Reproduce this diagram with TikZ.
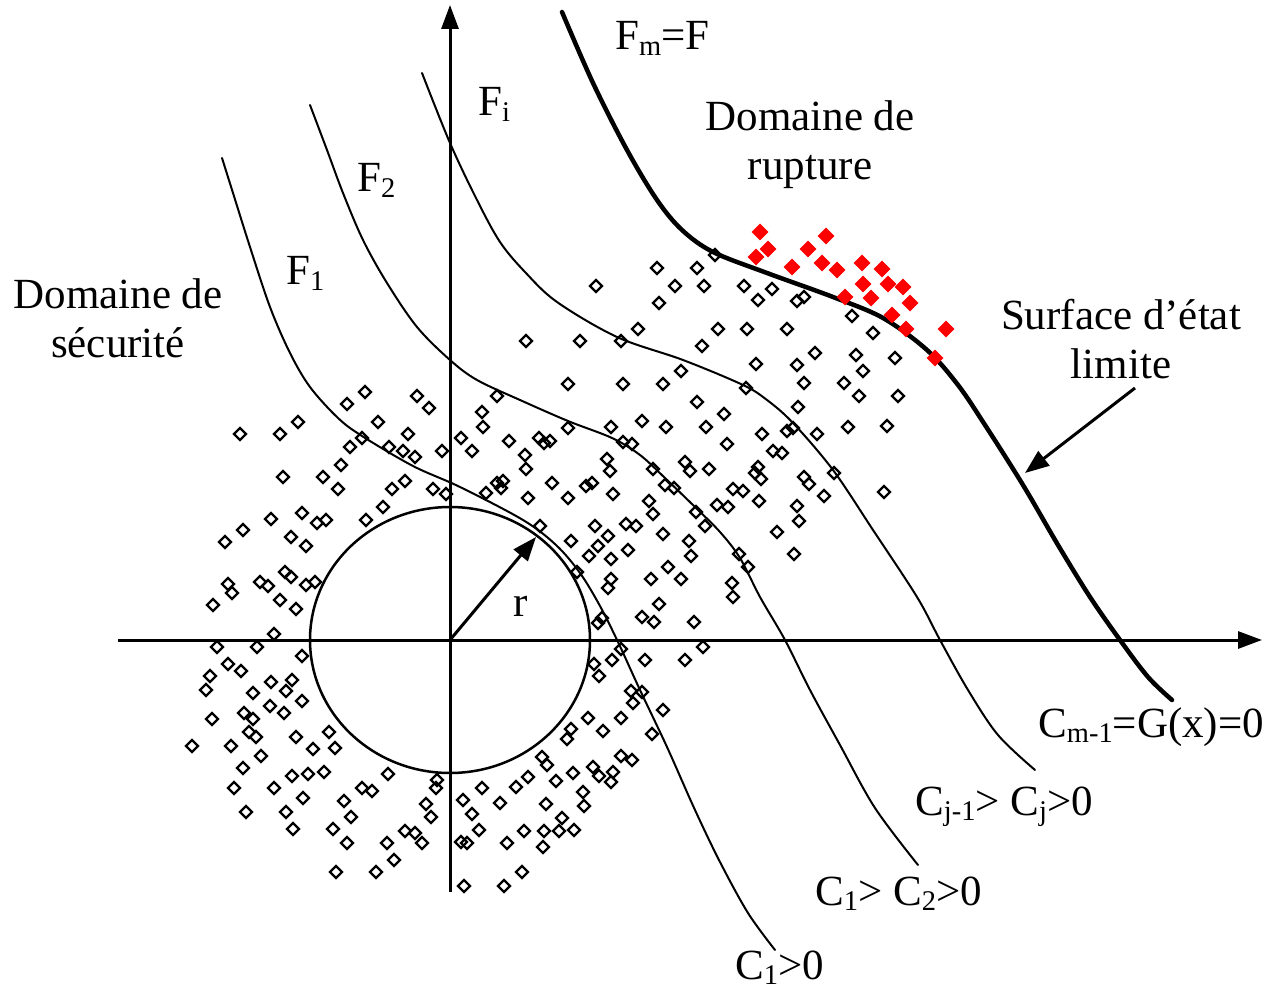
\documentclass[tikz,border=0pt]{standalone}
\usepackage{fontspec}
\setmainfont{Liberation Serif}
\usetikzlibrary{arrows.meta}
\newcommand{\lowidx}[1]{\raisebox{-0.30ex}{\fontsize{28.5}{30}\selectfont #1}}
\tikzset{
  lbl/.style={font=\fontsize{43}{49}\selectfont, inner sep=0pt, align=center},
  curvethin/.style={line width=2pt, line cap=round},
  curvethick/.style={line width=4.5pt, line cap=round},
  axis/.style={line width=3pt, -{Triangle[length=24pt,width=17pt]}},
  bd/.style={draw=black, line width=2.3pt, line join=miter},
  rd/.style={fill=red, draw=red, line width=0.5pt},
  pointer/.style={line width=3pt, -{Triangle[length=24pt,width=18pt]}}
}
\begin{document}
\begin{tikzpicture}[x=1pt,y=-1pt]
\useasboundingbox (0,0) rectangle (1266,992);
% axes
\coordinate (xl) at (118,640);
\coordinate (xr) at (1262,640);
\coordinate (yb) at (450,892);
\coordinate (yt) at (450,5);
\draw[axis] (xl) -- (xr);
\draw[axis] (yb) -- (yt);
% circle
\coordinate (O) at (450,640);
\draw[line width=2.5pt] (O) ellipse [x radius=140, y radius=133];
\coordinate (R) at (536,537);
\draw[pointer] (O) -- (R);
\node[lbl] (r) at (521,606) {r};
% curves
\draw[curvethin] plot[smooth, tension=0.55] coordinates {(222,158) (233,193) (250,247) (270,307) (290,353) (310,387) (338,418) (362,436) (413,466) (460,487) (523,520) (556,545) (580,573) (600,606) (618,642) (640,690) (667,747) (695,810) (720,862) (748,913) (775,950)};
\draw[curvethin] plot[smooth, tension=0.55] coordinates {(310,105) (327,150) (343,193) (363,240) (387,283) (417,327) (450,360) (477,380) (520,400) (568,421) (612,438) (640,455) (665,478) (696,508) (720,532) (740,558) (760,597) (785,640) (810,690) (840,745) (875,808) (918,865)};
\draw[curvethin] plot[smooth, tension=0.55] coordinates {(422,73) (450,143) (477,200) (500,242) (525,272) (557,302) (617,337) (683,360) (743,385) (767,400) (793,423) (833,470) (873,530) (917,597) (940,640) (968,690) (998,735) (1035,770)};
\draw[curvethick] plot[smooth, tension=0.55] coordinates {(562,12) (593,83) (627,150) (657,200) (682,230) (713,252) (767,273) (833,297) (883,318) (927,350) (958,385) (985,425) (1023,485) (1058,545) (1090,597) (1120,640) (1148,677) (1172,700)};
% labels
\node[lbl] (secu) at (118,318) {Domaine de\\sécurité};
\node[lbl, anchor=base west] (f1) at (286,285) {F\lowidx{1}};
\node[lbl, anchor=base west] (f2) at (357,192) {F\lowidx{2}};
\node[lbl, anchor=base west] (fi) at (478,116) {F\lowidx{i}};
\node[lbl, anchor=base west] (fm) at (615,50) {F\lowidx{m}=F};
\node[lbl] (rupt) at (810,145) {Domaine de\\rupture};
\node[lbl] (surf) at (1121,339) {Surface d’état\\limite};
\node[lbl, anchor=base west] (cm) at (1038,737) {C\lowidx{m-1}=G(x)=0};
\node[lbl, anchor=base west] (cj) at (915,815) {C\lowidx{j-1}> C\lowidx{j}>0};
\node[lbl, anchor=base west] (c12) at (815,905) {C\lowidx{1}> C\lowidx{2}>0};
\node[lbl, anchor=base west] (c1) at (735,979) {C\lowidx{1}>0};
\coordinate (ps) at (1135,388);
\coordinate (pe) at (1025,473);
\draw[pointer] (ps) -- (pe);
% black diamonds
\foreach \x/\y in {365/392,347/404,417/396,429/408,298/422,240/434,280/434,378/422,408/434,362/438,350/447,389/447,403/451,415/457,442/451,341/465,283/477,323/477,338/489,392/489,405/481,433/489,446/494,383/507,366/520,302/513,271/519,317/523,326/520,243/530,225/542,291/537,306/546,285/572,291/577,228/584,232/593,260/582,268/586,306/585,315/582,213/605,280/600,296/609,274/634,
217/647,257/647,302/656,228/664,241/671,210/676,206/690,271/682,292/680,286/691,253/693,302/701,270/706,284/713,244/713,253/719,212/719,249/732,256/737,296/737,329/732,192/746,231/746,313/749,335/748,261/756,243/768,292/776,308/774,324/772,388/774,234/788,274/788,303/798,362/788,372/791,437/780,436/788,344/801,246/812,286/812,426/804,431/817,351/817,293/829,333/829,405/831,415/833,422/843,347/843,387/843,394/860,336/872,376/872,
568/384,623/384,663/384,697/402,497/396,482/412,483/427,461/438,472/451,509/441,539/438,544/443,550/441,568/428,611/427,642/421,666/427,706/427,623/442,632/444,525/455,526/469,607/459,610/471,653/469,685/462,690/471,709/469,486/493,497/483,503/481,501/488,528/498,552/483,568/498,586/486,592/483,613/494,665/485,674/488,649/501,653/514,696/512,705/526,717/505,540/526,595/526,626/524,636/526,663/534,571/541,608/536,598/546,589/556,611/559,628/550,689/541,691/556,668/567,577/572,611/579,608/588,651/579,681/579,659/604,602/618,598/623,642/617,654/622,694/622,
621/649,612/660,594/664,599/676,645/660,685/660,703/647,631/691,642/692,633/703,663/710,588/718,621/718,603/731,652/734,571/729,567/739,542/757,547/765,528/777,516/787,482/788,556/781,573/773,593/767,599/776,613/772,611/782,621/756,632/760,463/800,472/814,500/803,546/804,583/792,584/806,562/818,479/830,524/831,544/831,559/831,574/830,461/842,467/843,507/843,543/847,522/872,464/886,504/886,
715/255,657/268,697/268,596/286,675/286,704/286,744/286,772/289,659/303,758/300,797/301,804/297,852/316,638/329,718/329,747/329,787/329,873/333,526/341,580/341,621/341,702/346,815/353,856/355,895/358,756/364,797/365,863/371,681/371,746/388,804/383,844/383,859/396,898/396,
724/414,798/407,762/434,787/431,793/428,817/434,848/427,887/426,727/444,773/451,782/453,758/467,755/473,761/479,804/477,809/484,834/473,824/496,884/492,733/489,743/491,759/501,728/507,797/506,799/521,777/532,794/554,739/554,748/567,732/583,733/597}
  \draw[bd] (\x,\y) ++(-6,0) -- ++(6,-6) -- ++(6,6) -- ++(-6,6) -- cycle;
% red diamonds
\foreach \x/\y in {760/232,826/236,768/249,756/257,808/249,792/267,822/263,837/270,862/263,882/269,863/284,888/284,903/287,845/297,871/298,910/303,892/315,906/329,946/329,935/358}
  \draw[rd] (\x,\y) ++(-8,0) -- ++(8,-8) -- ++(8,8) -- ++(-8,8) -- cycle;
\end{tikzpicture}
\end{document}
